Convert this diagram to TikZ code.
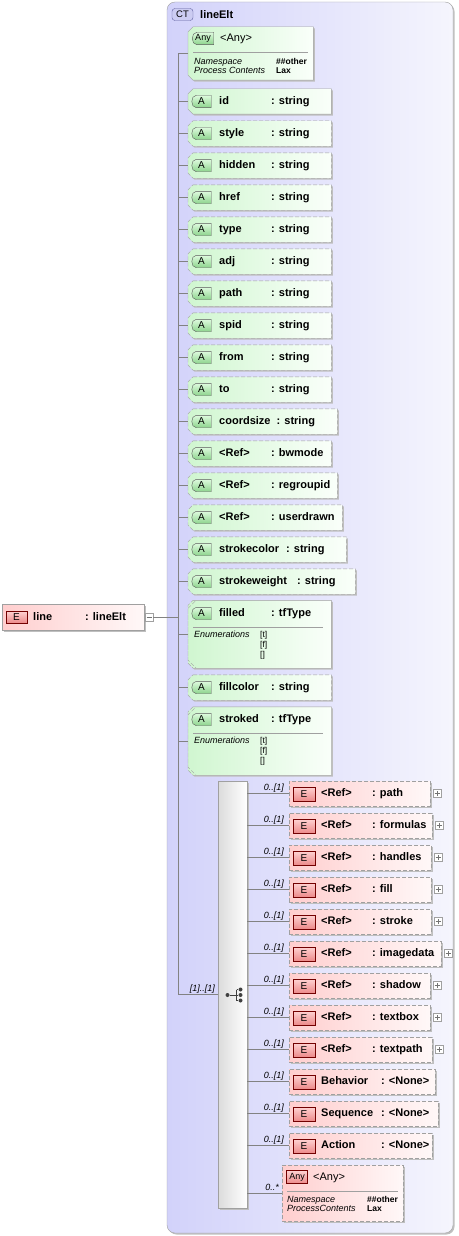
\documentclass[tikz,border=0pt]{standalone}
\usepackage{fontspec}
\setmainfont{Liberation Sans}
\usepackage{xcolor}
\usepackage{tikz}
\usetikzlibrary{shadows}

\definecolor{edge}{RGB}{160,160,160}
\definecolor{wire}{RGB}{130,130,130}
\definecolor{ctl}{RGB}{210,210,250}
\definecolor{ctr}{RGB}{245,245,253}
\definecolor{attl}{RGB}{208,246,208}
\definecolor{attr}{RGB}{250,255,250}
\definecolor{ell}{RGB}{255,206,206}
\definecolor{elr}{RGB}{255,248,248}
\definecolor{abt}{RGB}{222,250,222}
\definecolor{abb}{RGB}{140,212,140}
\definecolor{ebt}{RGB}{255,210,210}
\definecolor{ebb}{RGB}{236,138,138}

\newcommand{\fld}[2][52pt]{\makebox[#1][l]{#2}}

\tikzset{
  boxshadow/.style={drop shadow={shadow xshift=1.5pt,shadow yshift=-1.5pt,fill=black!25,opacity=1}},
  conn/.style={draw=wire,line width=0.8pt},
  sepline/.style={draw=edge,line width=0.7pt},
  % chamfered outline of the node just placed
  chamf/.style={append after command={([xshift=#1]\tikzlastnode.north west) -- (\tikzlastnode.north east)
      -- (\tikzlastnode.south east) -- ([xshift=#1]\tikzlastnode.south west) -- ([yshift=#1]\tikzlastnode.south west)
      -- ([yshift=-#1]\tikzlastnode.north west) -- cycle}},
  % tag outline with round left end
  tag/.style={append after command={([xshift=4.5pt]\tikzlastnode.north west) -- (\tikzlastnode.north east)
      -- (\tikzlastnode.south east) -- ([xshift=4.5pt]\tikzlastnode.south west)
      .. controls ([xshift=-1.5pt]\tikzlastnode.south west) and ([xshift=-1.5pt]\tikzlastnode.north west) .. ([xshift=4.5pt]\tikzlastnode.north west) -- cycle}},
  ctbox/.style={rectangle,rounded corners=8pt,draw=edge,left color=ctl,right color=ctr,minimum width=286pt,minimum height=1231pt,inner sep=0pt,boxshadow},
  ctbadge/.style={rectangle,rounded corners=3pt,draw={rgb,255:red,96;green,96;blue,160},fill={rgb,255:red,204;green,204;blue,242},minimum width=21pt,minimum height=12pt,inner sep=0pt,font=\fontsize{9.5}{9.5}\selectfont},
  attnode/.style={rectangle,anchor=west,inner sep=0pt,minimum height=25pt,chamf=5pt},
  attfill/.style={draw=edge,left color=attl,right color=attr,boxshadow},
  optfill/.style={attfill,dash pattern=on 4pt off 2pt},
  abnode/.style={rectangle,inner sep=0pt,minimum width=19pt,minimum height=12pt,font=\fontsize{10}{10}\selectfont,tag},
  abfill/.style={draw=black!65,top color=abt,bottom color=abb},
  linebox/.style={rectangle,draw=edge,left color=ell,right color=elr,anchor=west,inner sep=0pt,minimum width=142pt,minimum height=26pt,boxshadow},
  elbox/.style={rectangle,draw=edge,dash pattern=on 4pt off 2pt,left color=ell,right color=elr,anchor=west,inner sep=0pt,minimum height=25pt,boxshadow},
  ebadge/.style={rectangle,draw=black!55!red,top color=ebt,bottom color=ebb,minimum width=22pt,minimum height=14pt,inner sep=0pt,font=\fontsize{10}{10}\selectfont},
  seqbar/.style={rectangle,draw=edge,left color=black!14,right color=white,minimum width=29pt,minimum height=427pt,inner sep=0pt,boxshadow},
  nm/.style={anchor=base west,inner sep=0pt,font=\bfseries\fontsize{11}{13}\selectfont},
  txt/.style={anchor=base west,inner sep=0pt,font=\fontsize{11}{13}\selectfont},
  prop/.style={anchor=base west,inner sep=0pt,font=\itshape\fontsize{9}{10}\selectfont},
  val/.style={anchor=base west,inner sep=0pt,font=\bfseries\fontsize{8.5}{10}\selectfont},
  enumv/.style={anchor=base west,inner sep=0pt,font=\fontsize{8.5}{10}\selectfont},
  occ/.style={anchor=base east,inner sep=0pt,font=\itshape\fontsize{9}{10}\selectfont},
  dot/.style={circle,fill=black!75,inner sep=0pt,minimum size=4pt},
  plusbox/.style={rectangle,draw=edge,fill=white,minimum size=8pt,inner sep=0pt,
    path picture={\draw[black!55] ([xshift=-2.5pt]path picture bounding box.center) -- ([xshift=2.5pt]path picture bounding box.center)
      ([yshift=-2.5pt]path picture bounding box.center) -- ([yshift=2.5pt]path picture bounding box.center);}},
  minusbox/.style={rectangle,draw=edge,fill=white,minimum size=8pt,inner sep=0pt,
    path picture={\draw[black!55] ([xshift=-2.5pt]path picture bounding box.center) -- ([xshift=2.5pt]path picture bounding box.center);}}
}

\begin{document}
\begin{tikzpicture}[x=1pt,y=-1pt]
\useasboundingbox (0,0) rectangle (458,1236);

% complex type frame
\node[ctbox] (ct) at (310,617.5) {};
\node[ctbadge] (ctb) at (182.5,14.5) {CT};
\node[nm] (ctn) at (200,18.5) {lineElt};

% element line
\node[linebox] (line) at (2,617) {};
\node[ebadge,minimum width=21pt,minimum height=12pt] (lineb) at (16.5,617) {E};
\node[nm] (linet) at (33,620.5) {\fld{line}: lineElt};
\node[minusbox] (minus) at (149,617.5) {};

% tree line
\coordinate (sp) at (178,53.5);
\coordinate (sq) at (178,994.5);
\draw[conn] (sp) -- (sq);
\draw[conn] (minus) -- (minus -| sp);

% any attribute
\path[attfill] node[attnode,minimum width=125pt,minimum height=53pt] (anya) at (188,53.5) {};
\path[abfill] node[abnode,minimum width=21pt,font=\fontsize{9}{9}\selectfont] (anyab) at (203,38.5) {Any};
\node[txt] (anyat) at (220,41.5) {<Any>};
\draw[sepline] (193,52.5) -- (308,52.5);
\node[prop] (anyan) at (194,64.5) {Namespace};
\node[val] (anyav) at (276,64.5) {\#\#other};
\node[prop] (anyap) at (194,73.5) {Process Contents};
\node[val] (anyal) at (276,73.5) {Lax};
\draw[conn] (anya) -- (anya -| sp);

% attributes
\path[attfill] node[attnode,minimum width=143pt] (aid) at (188,101.5) {};
\path[abfill] node[abnode] (bid) at (201.5,101.5) {A};
\node[nm] (tid) at (219,104.5) {\fld{id}: string};
\draw[conn] (aid) -- (aid -| sp);

\path[optfill] node[attnode,minimum width=143pt] (astyle) at (188,133.5) {};
\path[abfill] node[abnode] (bstyle) at (201.5,133.5) {A};
\node[nm] (tstyle) at (219,136.5) {\fld{style}: string};
\draw[conn] (astyle) -- (astyle -| sp);

\path[optfill] node[attnode,minimum width=143pt] (ahidden) at (188,165.5) {};
\path[abfill] node[abnode] (bhidden) at (201.5,165.5) {A};
\node[nm] (thidden) at (219,168.5) {\fld{hidden}: string};
\draw[conn] (ahidden) -- (ahidden -| sp);

\path[optfill] node[attnode,minimum width=143pt] (ahref) at (188,197.5) {};
\path[abfill] node[abnode] (bhref) at (201.5,197.5) {A};
\node[nm] (thref) at (219,200.5) {\fld{href}: string};
\draw[conn] (ahref) -- (ahref -| sp);

\path[optfill] node[attnode,minimum width=143pt] (atype) at (188,229.5) {};
\path[abfill] node[abnode] (btype) at (201.5,229.5) {A};
\node[nm] (ttype) at (219,232.5) {\fld{type}: string};
\draw[conn] (atype) -- (atype -| sp);

\path[optfill] node[attnode,minimum width=143pt] (aadj) at (188,261.5) {};
\path[abfill] node[abnode] (badj) at (201.5,261.5) {A};
\node[nm] (tadj) at (219,264.5) {\fld{adj}: string};
\draw[conn] (aadj) -- (aadj -| sp);

\path[optfill] node[attnode,minimum width=143pt] (apath) at (188,293.5) {};
\path[abfill] node[abnode] (bpath) at (201.5,293.5) {A};
\node[nm] (tpath) at (219,296.5) {\fld{path}: string};
\draw[conn] (apath) -- (apath -| sp);

\path[optfill] node[attnode,minimum width=143pt] (aspid) at (188,325.5) {};
\path[abfill] node[abnode] (bspid) at (201.5,325.5) {A};
\node[nm] (tspid) at (219,328.5) {\fld{spid}: string};
\draw[conn] (aspid) -- (aspid -| sp);

\path[optfill] node[attnode,minimum width=143pt] (afrom) at (188,357.5) {};
\path[abfill] node[abnode] (bfrom) at (201.5,357.5) {A};
\node[nm] (tfrom) at (219,360.5) {\fld{from}: string};
\draw[conn] (afrom) -- (afrom -| sp);

\path[optfill] node[attnode,minimum width=143pt] (ato) at (188,389.5) {};
\path[abfill] node[abnode] (bto) at (201.5,389.5) {A};
\node[nm] (tto) at (219,392.5) {\fld{to}: string};
\draw[conn] (ato) -- (ato -| sp);

\path[optfill] node[attnode,minimum width=149pt] (acoord) at (188,421.5) {};
\path[abfill] node[abnode] (bcoord) at (201.5,421.5) {A};
\node[nm] (tcoord) at (219,424.5) {\fld[57.5pt]{coordsize}: string};
\draw[conn] (acoord) -- (acoord -| sp);

\path[optfill] node[attnode,minimum width=143pt] (abw) at (188,453.5) {};
\path[abfill] node[abnode] (bbw) at (201.5,453.5) {A};
\node[nm] (tbw) at (219,456.5) {\fld{<Ref>}: bwmode};
\draw[conn] (abw) -- (abw -| sp);

\path[optfill] node[attnode,minimum width=149pt] (aregr) at (188,485.5) {};
\path[abfill] node[abnode] (bregr) at (201.5,485.5) {A};
\node[nm] (tregr) at (219,488.5) {\fld{<Ref>}: regroupid};
\draw[conn] (aregr) -- (aregr -| sp);

\path[optfill] node[attnode,minimum width=154pt] (auser) at (188,517.5) {};
\path[abfill] node[abnode] (buser) at (201.5,517.5) {A};
\node[nm] (tuser) at (219,520.5) {\fld{<Ref>}: userdrawn};
\draw[conn] (auser) -- (auser -| sp);

\path[optfill] node[attnode,minimum width=158pt] (ascol) at (188,549.5) {};
\path[abfill] node[abnode] (bscol) at (201.5,549.5) {A};
\node[nm] (tscol) at (219,552.5) {\fld[67pt]{strokecolor}: string};
\draw[conn] (ascol) -- (ascol -| sp);

\path[optfill] node[attnode,minimum width=167pt] (asw) at (188,581.5) {};
\path[abfill] node[abnode] (bsw) at (201.5,581.5) {A};
\node[nm] (tsw) at (219,584.5) {\fld[78pt]{strokeweight}: string};
\draw[conn] (asw) -- (asw -| sp);

% filled with enumerations
\path[optfill] node[attnode,minimum width=143pt,minimum height=67.5pt,chamf=8pt] (afill) at (188,634.25) {};
\path[abfill] node[abnode] (bfill) at (201.5,613.5) {A};
\node[nm] (tfill) at (219,616.5) {\fld{filled}: tfType};
\draw[sepline] (193,627) -- (323,627);
\node[prop] (efill) at (194,637) {Enumerations};
\node[enumv] (efill1) at (260,637) {[t]};
\node[enumv] (efill2) at (260,647) {[f]};
\node[enumv] (efill3) at (260,657) {[]};
\draw[conn] (afill) -- (afill -| sp);

\path[optfill] node[attnode,minimum width=143pt] (afcol) at (188,687.5) {};
\path[abfill] node[abnode] (bfcol) at (201.5,687.5) {A};
\node[nm] (tfcol) at (219,690.5) {\fld{fillcolor}: string};
\draw[conn] (afcol) -- (afcol -| sp);

% stroked with enumerations
\path[optfill] node[attnode,minimum width=143pt,minimum height=68pt,chamf=8pt] (astr) at (188,741) {};
\path[abfill] node[abnode] (bstr) at (201.5,719.5) {A};
\node[nm] (tstr) at (219,722.5) {\fld{stroked}: tfType};
\draw[sepline] (193,733.5) -- (323,733.5);
\node[prop] (estr) at (194,743.5) {Enumerations};
\node[enumv] (estr1) at (260,743.5) {[t]};
\node[enumv] (estr2) at (260,753.5) {[f]};
\node[enumv] (estr3) at (260,763.5) {[]};
\draw[conn] (astr) -- (astr -| sp);

% sequence
\node[seqbar] (seq) at (232.5,994.5) {};
\draw[conn] (sq) -- (seq);
\node[occ] (seqocc) at (215,991) {[1]..[1]};
\node[dot] (d0) at (227.5,995) {};
\node[dot] (d1) at (240.5,989.5) {};
\node[dot] (d2) at (240.5,995) {};
\node[dot] (d3) at (240.5,1000.5) {};
\coordinate (dj) at (236.5,995);
\draw[black!75,line width=0.8pt] (d0) -- (dj) (dj |- d1) -- (dj |- d3) (dj |- d1) -- (d1) (dj) -- (d2) (dj |- d3) -- (d3);

% child elements
\node[elbox,minimum width=141pt] (epath) at (289,793.5) {};
\node[ebadge] (bepath) at (304,794) {E};
\node[nm] (tepath) at (321,796.5) {\fld[51pt]{<Ref>}: path};
\node[plusbox] (pepath) at (437,793.5) {};
\node[occ] (oepath) at (284,790.5) {0..[1]};
\draw[conn] (epath) -- (epath -| seq.east);

\node[elbox,minimum width=143pt] (eform) at (289,825.5) {};
\node[ebadge] (beform) at (304,826) {E};
\node[nm] (teform) at (321,828.5) {\fld[51pt]{<Ref>}: formulas};
\node[plusbox] (peform) at (439,825.5) {};
\node[occ] (oeform) at (284,822.5) {0..[1]};
\draw[conn] (eform) -- (eform -| seq.east);

\node[elbox,minimum width=142pt] (ehand) at (289,857.5) {};
\node[ebadge] (behand) at (304,858) {E};
\node[nm] (tehand) at (321,860.5) {\fld[51pt]{<Ref>}: handles};
\node[plusbox] (pehand) at (438,857.5) {};
\node[occ] (oehand) at (284,854.5) {0..[1]};
\draw[conn] (ehand) -- (ehand -| seq.east);

\node[elbox,minimum width=142pt] (efil) at (289,889.5) {};
\node[ebadge] (befil) at (304,890) {E};
\node[nm] (tefil) at (321,892.5) {\fld[51pt]{<Ref>}: fill};
\node[plusbox] (pefil) at (438,889.5) {};
\node[occ] (oefil) at (284,886.5) {0..[1]};
\draw[conn] (efil) -- (efil -| seq.east);

\node[elbox,minimum width=142pt] (estro) at (289,921.5) {};
\node[ebadge] (bestro) at (304,922) {E};
\node[nm] (testro) at (321,924.5) {\fld[51pt]{<Ref>}: stroke};
\node[plusbox] (pestro) at (438,921.5) {};
\node[occ] (oestro) at (284,918.5) {0..[1]};
\draw[conn] (estro) -- (estro -| seq.east);

\node[elbox,minimum width=152pt] (eimg) at (289,953.5) {};
\node[ebadge] (beimg) at (304,954) {E};
\node[nm] (teimg) at (321,956.5) {\fld[51pt]{<Ref>}: imagedata};
\node[plusbox] (peimg) at (448,953.5) {};
\node[occ] (oeimg) at (284,950.5) {0..[1]};
\draw[conn] (eimg) -- (eimg -| seq.east);

\node[elbox,minimum width=141pt] (eshad) at (289,985.5) {};
\node[ebadge] (beshad) at (304,986) {E};
\node[nm] (teshad) at (321,988.5) {\fld[51pt]{<Ref>}: shadow};
\node[plusbox] (peshad) at (437,985.5) {};
\node[occ] (oeshad) at (284,982.5) {0..[1]};
\draw[conn] (eshad) -- (eshad -| seq.east);

\node[elbox,minimum width=141pt] (etbox) at (289,1017.5) {};
\node[ebadge] (betbox) at (304,1018) {E};
\node[nm] (tetbox) at (321,1020.5) {\fld[51pt]{<Ref>}: textbox};
\node[plusbox] (petbox) at (437,1017.5) {};
\node[occ] (oetbox) at (284,1014.5) {0..[1]};
\draw[conn] (etbox) -- (etbox -| seq.east);

\node[elbox,minimum width=143pt] (etpath) at (289,1049.5) {};
\node[ebadge] (betpath) at (304,1050) {E};
\node[nm] (tetpath) at (321,1052.5) {\fld[51pt]{<Ref>}: textpath};
\node[plusbox] (petpath) at (439,1049.5) {};
\node[occ] (oetpath) at (284,1046.5) {0..[1]};
\draw[conn] (etpath) -- (etpath -| seq.east);

\node[elbox,minimum width=146pt] (ebeh) at (289,1081.5) {};
\node[ebadge] (bebeh) at (304,1082) {E};
\node[nm] (tebeh) at (321,1084.5) {\fld[60pt]{Behavior}: <None>};
\node[occ] (oebeh) at (284,1078.5) {0..[1]};
\draw[conn] (ebeh) -- (ebeh -| seq.east);

\node[elbox,minimum width=149pt] (eseq) at (289,1113.5) {};
\node[ebadge] (beseq) at (304,1114) {E};
\node[nm] (teseq) at (321,1116.5) {\fld[60pt]{Sequence}: <None>};
\node[occ] (oeseq) at (284,1110.5) {0..[1]};
\draw[conn] (eseq) -- (eseq -| seq.east);

\node[elbox,minimum width=143pt] (eact) at (289,1145.5) {};
\node[ebadge] (beact) at (304,1146) {E};
\node[nm] (teact) at (321,1148.5) {\fld[60pt]{Action}: <None>};
\node[occ] (oeact) at (284,1142.5) {0..[1]};
\draw[conn] (eact) -- (eact -| seq.east);

% any element
\node[elbox,minimum width=121pt,minimum height=56pt] (eany) at (282,1193) {};
\node[ebadge,minimum width=21pt,minimum height=13pt,font=\fontsize{9}{9}\selectfont] (beany) at (297,1177) {Any};
\node[txt] (teany) at (313,1180) {<Any>};
\draw[sepline] (287,1191.5) -- (398,1191.5);
\node[prop] (neany) at (287,1202) {Namespace};
\node[val] (veany) at (367,1202) {\#\#other};
\node[prop] (peany) at (287,1211) {ProcessContents};
\node[val] (leany) at (367,1211) {Lax};
\node[occ] (oeany) at (279,1190) {0..*};
\draw[conn] (eany) -- (eany -| seq.east);

\end{tikzpicture}
\end{document}
